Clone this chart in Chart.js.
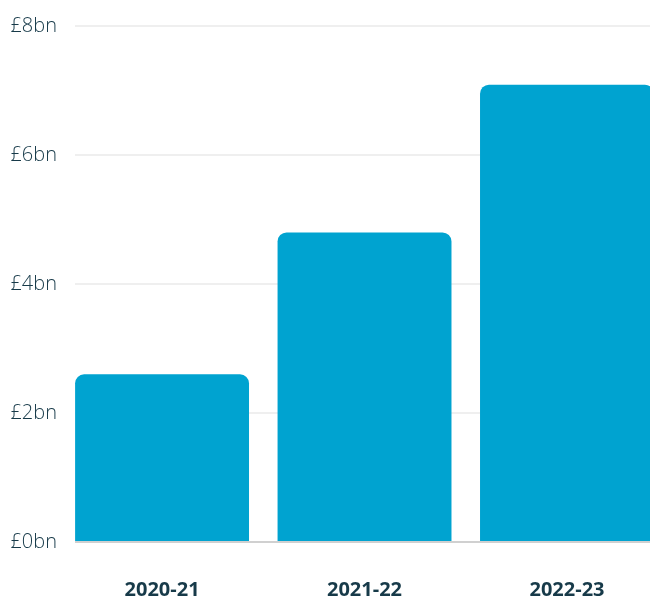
<!DOCTYPE html>
<html>
<head>
<meta charset="utf-8">
<script src="https://cdn.jsdelivr.net/npm/chart.js@4"></script>
<style>
  html, body { margin: 0; padding: 0; background: #fff; overflow: hidden; }
  #chart { display: block; }
</style>
</head>
<body>
<canvas id="chart" width="650" height="601"></canvas>
<script>
const years = ["2020-21", "2021-22", "2022-23"];
const spending = [2.6, 4.8, 7.09];   // £bn
const yTicks = [0, 2, 4, 6, 8];

const barColor = "#00a3d0";
const textDark = "#173a49";

const points = spending.map((v, i) => ({ x: i, y: v }));

new Chart(document.getElementById("chart"), {
  type: "bar",
  data: {
    datasets: [{
      data: points,
      backgroundColor: barColor,
      borderRadius: 9,
      borderSkipped: "bottom",
      categoryPercentage: 1,
      barPercentage: 0.859,
    }]
  },
  options: {
    responsive: false,
    animation: false,
    layout: { padding: { top: 26, left: 0, right: 0, bottom: 0 } },
    plugins: { legend: { display: false }, tooltip: { enabled: false } },
    scales: {
      x: {
        type: "linear",
        offset: false,
        min: -0.43,
        max: 2.41,
        grid: { display: false, drawTicks: false, offset: false },
        border: { display: false },
        afterBuildTicks: (s) => { s.ticks = years.map((_, i) => ({ value: i })); },
        afterFit: (s) => { s.height = 59; s.paddingLeft = 0; s.paddingRight = 0; },
        ticks: {
          padding: 36,
          color: textDark,
          font: { family: "'Open Sans', sans-serif", size: 20, weight: "bold" },
          callback: (v) => years[v]
        }
      },
      y: {
        min: 0,
        max: 8,
        afterBuildTicks: (s) => { s.ticks = yTicks.map(v => ({ value: v })); },
        afterFit: (s) => { s.width = 75; s.paddingTop = 0; s.paddingBottom = 0; },
        grid: {
          drawTicks: false,
          lineWidth: 2,
          color: (c) => c.tick && c.tick.value === 0 ? "#d0d0d0" : "#efefef"
        },
        border: { display: false },
        ticks: {
          padding: 18,
          color: textDark,
          font: { family: "'Open Sans', sans-serif", size: 20, weight: 300 },
          callback: (v) => "£" + v + "bn"
        }
      }
    }
  }
});
</script>
</body>
</html>
